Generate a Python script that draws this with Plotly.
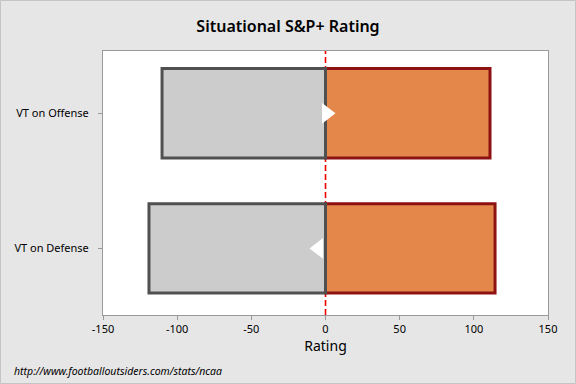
import plotly.graph_objects as go

categories = ["VT on Defense", "VT on Offense"]
negative_side = [-119.0, -110.2]
positive_side = [114.3, 110.9]
net_marker = [-4.7, 0.7]
x_ticks = [-150, -100, -50, 0, 50, 100, 150]

FONT = "Noto Sans"
W, H = 576, 384
L, R, T, B = 103, 28, 51, 69

fig = go.Figure()
fig.add_trace(go.Bar(
    y=categories, x=positive_side, base=0, orientation="h", width=0.662,
    marker=dict(color="#E3874A", line=dict(color="#8E1212", width=3)),
    showlegend=False, hoverinfo="x"))
fig.add_trace(go.Bar(
    y=categories, x=negative_side, base=0, orientation="h", width=0.662,
    marker=dict(color="#CCCCCC", line=dict(color="#505050", width=3)),
    showlegend=False, hoverinfo="x"))
fig.add_trace(go.Scatter(
    y=categories, x=net_marker, mode="markers",
    marker=dict(symbol=["triangle-left" if v < 0 else "triangle-right" for v in net_marker],
                size=18, color="white", line=dict(width=0)),
    showlegend=False, hoverinfo="x"))

fig.add_shape(type="line", xref="x", yref="paper", x0=0, x1=0, y0=0, y1=1,
              line=dict(color="#EE0000", width=1.6, dash="6px,3px"), layer="below")

pw, ph = W - L - R, H - T - B
fig.add_shape(type="rect", xref="paper", yref="paper",
              x0=-(L - 0.5) / pw, x1=1 + (R - 0.5) / pw,
              y0=-(B - 0.5) / ph, y1=1 + (T - 0.5) / ph,
              line=dict(color="#C4C4C4", width=1), layer="below")

fig.update_layout(
    width=W, height=H,
    margin=dict(l=L, r=R, t=T, b=B),
    paper_bgcolor="#E6E6E6", plot_bgcolor="white",
    barmode="overlay",
    font=dict(family=FONT, size=11, color="black"),
    title=dict(text="Situational S&P+ Rating", x=0.5, xanchor="center",
               y=1 - 26 / H, yanchor="middle",
               font=dict(family=FONT, size=16, color="black", weight=600)),
    xaxis=dict(range=[-150, 150], tickvals=x_ticks, ticktext=[str(v) for v in x_ticks],
               showgrid=False, zeroline=False, ticks="outside", ticklen=4,
               tickcolor="#999999", showline=True, linecolor="#9A9A9A", linewidth=1,
               mirror=True, title=dict(text="Rating", font=dict(size=14), standoff=2),
               tickfont=dict(size=11)),
    yaxis=dict(type="category", categoryorder="array", categoryarray=categories,
               range=[-0.493, 1.461], showgrid=False, zeroline=False,
               ticks="outside", ticklen=4, tickcolor="#999999", ticklabelstandoff=7,
               showline=True, linecolor="#9A9A9A", linewidth=1, mirror=True,
               tickfont=dict(size=11)),
    annotations=[dict(text="<i>http://www.footballoutsiders.com/stats/ncaa</i>",
                      xref="paper", yref="paper", x=-(L - 12) / pw, y=-(371 - (H - B)) / ph,
                      xanchor="left", yanchor="middle", showarrow=False,
                      font=dict(family=FONT, size=10.5, color="black"))],
)

fig.write_html("out.html", config={"displayModeBar": False},
               post_script="document.body.style.margin='0';document.body.style.padding='0';")
